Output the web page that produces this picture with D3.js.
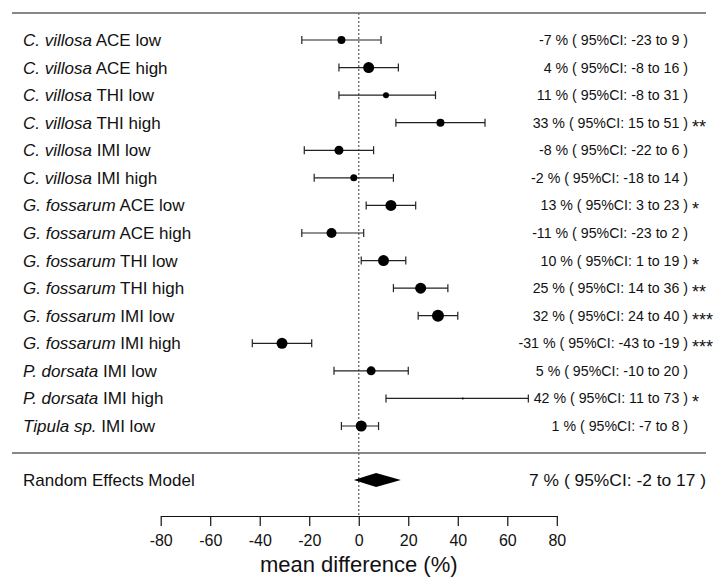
<!DOCTYPE html>
<html>
<head>
<meta charset="utf-8">
<script src="https://cdn.jsdelivr.net/npm/d3@7"></script>
<style>
  body { margin: 0; background: #fff; }
  svg text { font-family: "Liberation Sans", Arial, sans-serif; fill: #111; }
</style>
</head>
<body>
<div id="chart"></div>
<script>
// study rows, top to bottom
const species = ["C. villosa", "C. villosa", "C. villosa", "C. villosa", "C. villosa", "C. villosa",
  "G. fossarum", "G. fossarum", "G. fossarum", "G. fossarum", "G. fossarum", "G. fossarum",
  "P. dorsata", "P. dorsata", "Tipula sp."];
const treatment = ["ACE low", "ACE high", "THI low", "THI high", "IMI low", "IMI high",
  "ACE low", "ACE high", "THI low", "THI high", "IMI low", "IMI high",
  "IMI low", "IMI high", "IMI low"];
const estimate = [-7, 4, 11, 33, -8, -2, 13, -11, 10, 25, 32, -31, 5, 42, 1];
const ciLow = [-23, -8, -8, 15, -22, -18, 3, -23, 1, 14, 24, -43, -10, 11, -7];
const ciHigh = [9, 16, 31, 51, 6, 14, 23, 2, 19, 36, 40, -19, 20, 73, 8];
const stars = ["", "", "", "**", "", "", "*", "", "*", "**", "***", "***", "", "*", ""];
// study weight (drives dot size)
const weight = [4, 5.5, 3, 4, 4.5, 3.5, 5.5, 5, 5.5, 5.5, 6, 5.5, 4.5, 1, 5.5];

const pooled = { label: "Random Effects Model", est: 7, lo: -2, hi: 17 };
const xTicks = [-80, -60, -40, -20, 0, 20, 40, 60, 80];
// whiskers are cut where the plotting region ends
const plotMax = 68.5;

const W = 715, H = 578;
const svg = d3.select("#chart").append("svg")
  .attr("width", W)
  .attr("height", H);

const x = d3.scaleLinear().domain([-80, 80]).range([160.7, 556.8]);
const y = d3.scalePoint()
  .domain(d3.range(species.length))
  .range([40, 426]);
const hiX = i => x(Math.min(ciHigh[i], plotMax));

const yPooled = 480;
const axisY = 516;

// top and separator lines
svg.append("line").attr("x1", 12).attr("x2", 706).attr("y1", 13).attr("y2", 13)
  .attr("stroke", "#111").attr("stroke-width", 1.2);
svg.append("line").attr("x1", 12).attr("x2", 706).attr("y1", 453).attr("y2", 453)
  .attr("stroke", "#111").attr("stroke-width", 1.2);

// reference line at zero
svg.append("line")
  .attr("x1", x(0)).attr("x2", x(0))
  .attr("y1", 13).attr("y2", axisY)
  .attr("stroke", "#666")
  .attr("stroke-width", 1.3)
  .attr("stroke-dasharray", "2,2");

const rows = svg.selectAll(".row")
  .data(d3.range(species.length))
  .enter().append("g")
  .attr("class", "row");

// labels
const lab = rows.append("text")
  .attr("x", 23)
  .attr("y", i => y(i))
  .attr("dy", "0.35em")
  .style("font-size", "17px");
lab.append("tspan").style("font-style", "italic").text(i => species[i]);
lab.append("tspan").text(i => " " + treatment[i]);

// CI whiskers
rows.append("line")
  .attr("x1", i => x(ciLow[i])).attr("x2", hiX)
  .attr("y1", i => y(i)).attr("y2", i => y(i))
  .attr("stroke", "#222").attr("stroke-width", 1.2);
rows.append("line")
  .attr("x1", i => x(ciLow[i])).attr("x2", i => x(ciLow[i]))
  .attr("y1", i => y(i) - 4).attr("y2", i => y(i) + 4)
  .attr("stroke", "#222").attr("stroke-width", 1.2);
rows.append("line")
  .attr("x1", hiX).attr("x2", hiX)
  .attr("y1", i => y(i) - 4).attr("y2", i => y(i) + 4)
  .attr("stroke", "#222").attr("stroke-width", 1.2);

// point estimates
rows.append("circle")
  .attr("cx", i => x(estimate[i]))
  .attr("cy", i => y(i))
  .attr("r", i => weight[i])
  .attr("fill", "#000");

// right-hand text
rows.append("text")
  .attr("x", 688)
  .attr("y", i => y(i))
  .attr("dy", "0.35em")
  .attr("text-anchor", "end")
  .style("font-size", "14.2px")
  .text(i => `${estimate[i]} % ( 95%CI: ${ciLow[i]} to ${ciHigh[i]} )`);
rows.append("text")
  .attr("x", 692)
  .attr("y", i => y(i) + 10)
  .style("font-size", "18px")
  .text(i => stars[i]);

// pooled estimate
svg.append("text")
  .attr("x", 23).attr("y", yPooled).attr("dy", "0.35em")
  .style("font-size", "17px")
  .text(pooled.label);
svg.append("path")
  .attr("d", `M${x(pooled.lo)},${yPooled} L${x(pooled.est)},${yPooled - 7} L${x(pooled.hi)},${yPooled} L${x(pooled.est)},${yPooled + 7} Z`)
  .attr("fill", "#000");
svg.append("text")
  .attr("x", 706).attr("y", yPooled).attr("dy", "0.35em")
  .attr("text-anchor", "end")
  .style("font-size", "17.4px")
  .text(`${pooled.est} % ( 95%CI: ${pooled.lo} to ${pooled.hi} )`);

// x axis
const axis = svg.append("g")
  .attr("transform", `translate(0,${axisY})`)
  .call(d3.axisBottom(x).tickValues(xTicks).tickFormat(d => String(d)).tickSize(10).tickSizeOuter(0).tickPadding(8));
axis.select(".domain").attr("stroke", "#111").attr("stroke-width", 1.2);
axis.selectAll(".tick line").attr("stroke", "#111").attr("stroke-width", 1.2);
axis.selectAll(".tick text")
  .style("font-size", "16px")
  .style("font-family", "'Liberation Sans', Arial, sans-serif")
  .attr("fill", "#111")
  .attr("dy", null)
  .attr("y", 30);

svg.append("text")
  .attr("x", x(0))
  .attr("y", 572)
  .attr("text-anchor", "middle")
  .style("font-size", "22px")
  .text("mean difference (%)");
</script>
</body>
</html>
